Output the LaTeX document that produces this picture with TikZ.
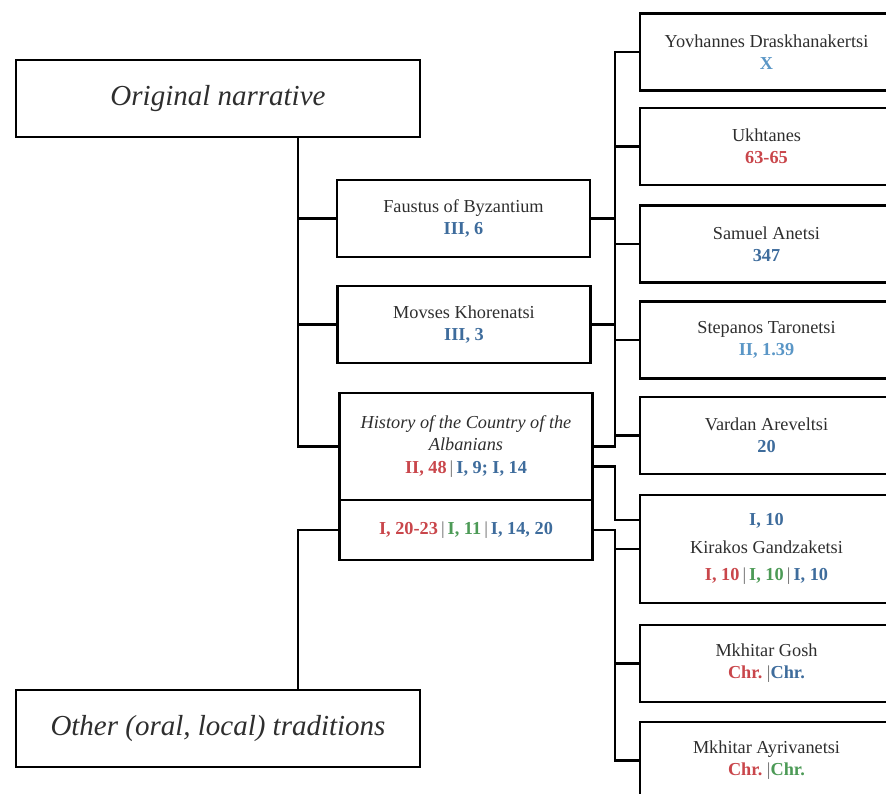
\documentclass[tikz,border=0pt]{standalone}
\usepackage{xcolor}
\usepackage{fontspec}
\setmainfont{Liberation Serif}
\usepackage{tikz}

\definecolor{inkgray}{HTML}{2E2E2E}
\definecolor{refred}{HTML}{C9464B}
\definecolor{refblue}{HTML}{3E6C9C}
\definecolor{refgreen}{HTML}{4C9A56}
\definecolor{refsky}{HTML}{5A96C6}
\definecolor{sepgray}{HTML}{6A6A6A}

\newcommand\cnum[2]{\textcolor{#1}{\bfseries #2}}
\newcommand\vsep{\textcolor{sepgray}{\,|\,}}
\newcommand\tsep{\textcolor{sepgray}{|}}

\begin{document}
\begin{tikzpicture}[x=0.02cm, y=-0.02cm,
    every node/.style={font=\fontsize{10.4}{12.6}\selectfont, text=inkgray},
    srcbox/.style={draw=black, rectangle, line width=1.2pt, minimum width=5.06cm, minimum height=1.54cm, align=center, inner sep=2pt},
    bigbox/.style={draw=black, rectangle, line width=1.2pt, minimum width=8.08cm, minimum height=1.54cm, font=\fontsize{16.5}{19}\selectfont\itshape},
    link/.style={line width=1.3pt}]
    \useasboundingbox (0,0) rectangle (886,794);

    % left column
    \node[bigbox] (orig) at (218,98.5) {Original narrative};
    \node[bigbox] (other) at (218,728.5) {Other (oral, local) traditions};

    % middle column
    \node[srcbox] (faustus) at (463.5,218.5) {Faustus of Byzantium\\\cnum{refblue}{III, 6}};
    \node[srcbox] (movses) at (464,324.5) {Movses Khorenatsi\\\cnum{refblue}{III, 3}};
    \node[srcbox, minimum height=2.14cm] (histup) at (466,446.5) {\itshape History of the Country of the\\\itshape Albanians\\\cnum{refred}{II, 48}\vsep\cnum{refblue}{I, 9; I, 14}};
    \node[srcbox, minimum height=1.2cm] (histlow) at (466,530) {\cnum{refred}{I, 20-23}\vsep\cnum{refgreen}{I, 11}\vsep\cnum{refblue}{I, 14, 20}};

    % right column
    \node[srcbox] (yov) at (766.5,52) {Yovhannes Draskhanakertsi\\\cnum{refsky}{X}};
    \node[srcbox] (ukh) at (766.5,146.5) {Ukhtanes\\\cnum{refred}{63-65}};
    \node[srcbox] (sam) at (766.5,244) {Samuel Anetsi\\\cnum{refblue}{347}};
    \node[srcbox] (ste) at (766.5,340) {Stepanos Taronetsi\\\cnum{refsky}{II, 1.39}};
    \node[srcbox] (var) at (766.5,435.5) {Vardan Areveltsi\\\cnum{refblue}{20}};
    \node[srcbox, minimum height=2.16cm] (kir) at (766.5,549) {\cnum{refblue}{I, 10}\\[3pt]Kirakos Gandzaketsi\\[3pt]\cnum{refred}{I, 10}\vsep\cnum{refgreen}{I, 10}\vsep\cnum{refblue}{I, 10}};
    \node[srcbox] (gosh) at (766.5,663.5) {Mkhitar Gosh\\\cnum{refred}{Chr.}\ \tsep\cnum{refblue}{Chr.}};
    \node[srcbox] (ayr) at (766.5,760.5) {Mkhitar Ayrivanetsi\\\cnum{refred}{Chr.}\ \tsep\cnum{refgreen}{Chr.}};

    % trunks
    \coordinate (trunkL) at ([xshift=1.6cm]orig.south);
    \coordinate (trunkR) at ([xshift=0.48cm]faustus.east);
    \coordinate (kirtop) at ([yshift=0.58cm]kir.west);

    \draw[link] (trunkL) |- (histup.west);
    \draw[link] (trunkL |- faustus.west) -- (faustus.west);
    \draw[link] (trunkL |- movses.west) -- (movses.west);
    \draw[link] (other.north -| trunkL) |- (histlow.west);

    \draw[link] (yov.west) -| (trunkR |- histup.east) -- (histup.east);
    \draw[link] (faustus.east) -- (faustus.east -| trunkR);
    \draw[link] (movses.east) -- (movses.east -| trunkR);
    \draw[link] (trunkR |- ukh.west) -- (ukh.west);
    \draw[link] (trunkR |- sam.west) -- (sam.west);
    \draw[link] (trunkR |- ste.west) -- (ste.west);
    \draw[link] (trunkR |- var.west) -- (var.west);

    \draw[link] ([yshift=-0.4cm]histup.east) -| (kirtop -| trunkR) -- (kirtop);

    \draw[link] (histlow.east) -| (trunkR |- ayr.west) -- (ayr.west);
    \draw[link] (trunkR |- kir.west) -- (kir.west);
    \draw[link] (trunkR |- gosh.west) -- (gosh.west);
\end{tikzpicture}
\end{document}
